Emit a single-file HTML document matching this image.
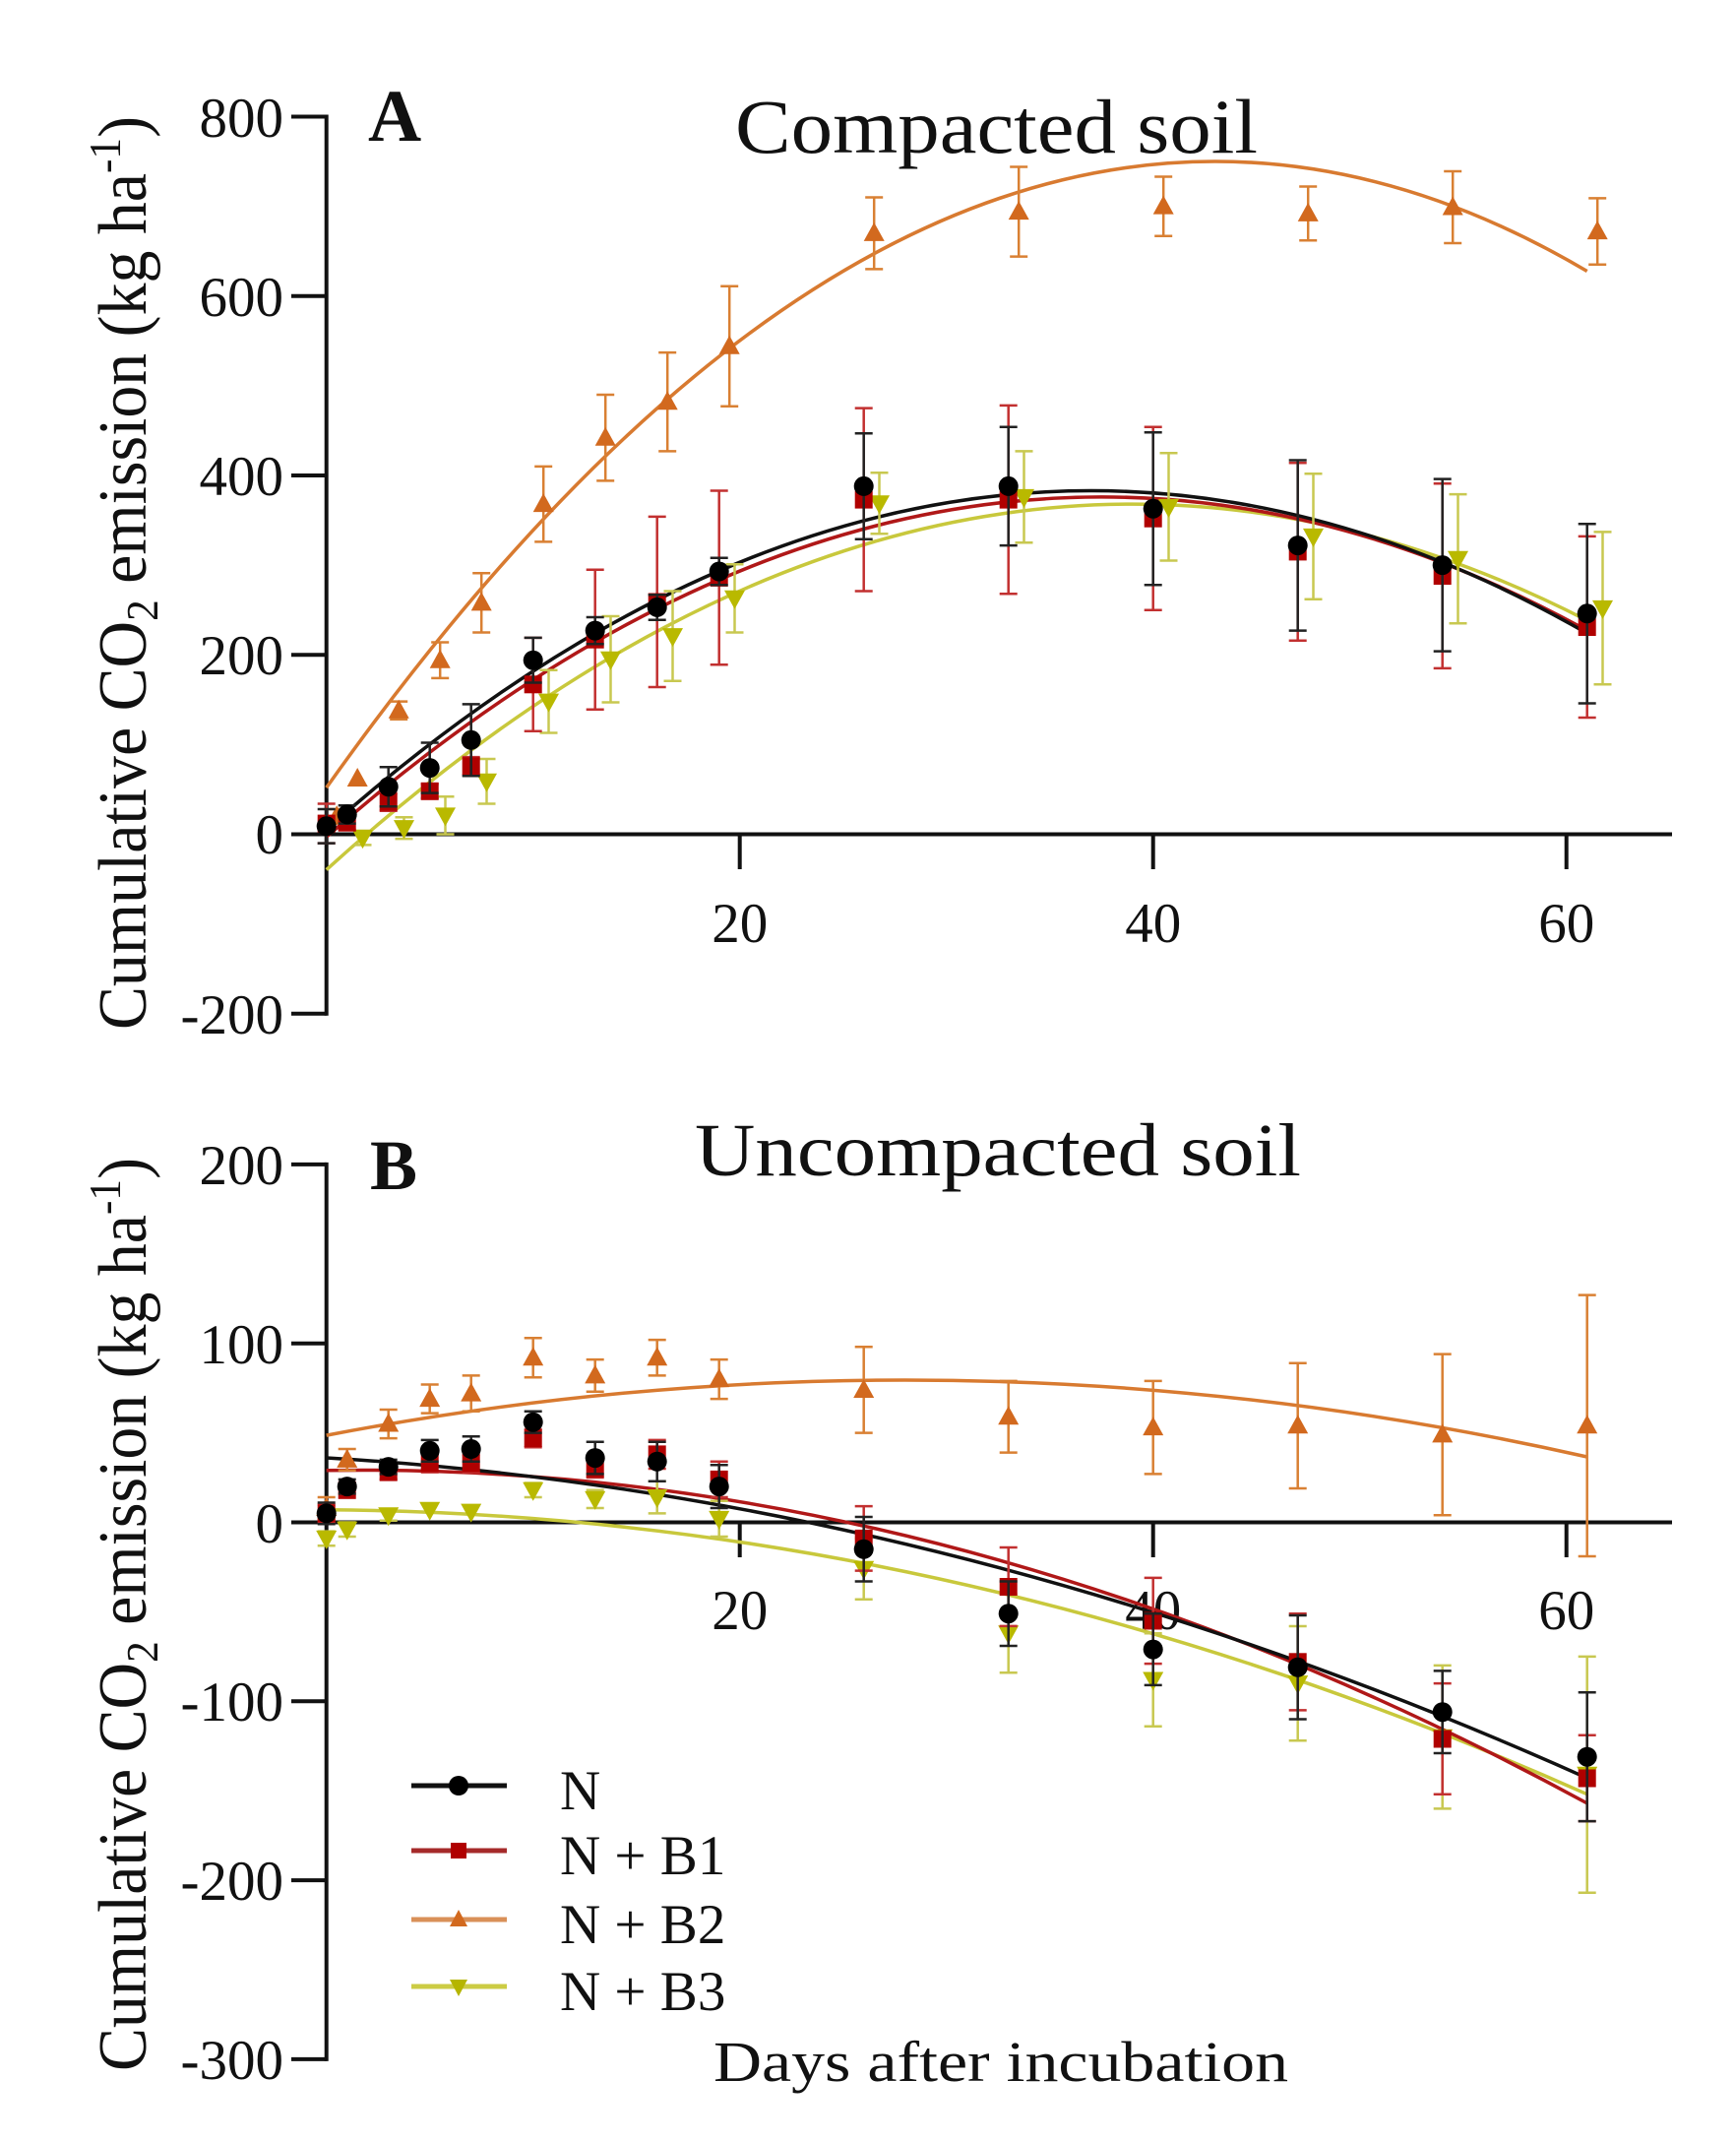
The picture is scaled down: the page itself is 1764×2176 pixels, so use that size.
<!DOCTYPE html>
<html><head><meta charset="utf-8"><style>
html,body{margin:0;padding:0;background:#fff;}
svg{display:block;}
text{font-family:"Liberation Serif",serif;fill:#111;}
</style></head><body>
<svg width="1764" height="2176" viewBox="0 0 1764 2176" xmlns="http://www.w3.org/2000/svg">
<defs>
<circle id="c" r="10"/>
<rect id="s" x="-9" y="-9" width="18" height="18"/>
<path id="tu" d="M0 -11L10.5 8H-10.5Z"/>
<path id="td" d="M0 11L10.5 -8H-10.5Z"/>
</defs>
<rect width="1764" height="2176" fill="#fff"/>

<!-- ===== Panel A ===== -->
<g stroke="#111" stroke-width="4" fill="none">
<path d="M331.7 116.5V1031.8"/>
<path d="M296 118.5H331.7M296 300.7H331.7M296 483H331.7M296 665.2H331.7M296 847.5H331.7M296 1029.8H331.7"/>
<path d="M329.7 847.5H1699"/>
<path d="M751.7 847.5V883M1171.7 847.5V883M1591.7 847.5V883"/>
</g>
<g font-size="57" text-anchor="end">
<text x="288" y="139">800</text>
<text x="288" y="321">600</text>
<text x="288" y="503">400</text>
<text x="288" y="685">200</text>
<text x="288" y="867">0</text>
<text x="288" y="1050">-200</text>
</g>
<g font-size="57" text-anchor="middle">
<text x="751.7" y="957">20</text>
<text x="1171.7" y="957">40</text>
<text x="1591.7" y="957">60</text>
</g>
<text x="374" y="143" font-size="75" font-weight="bold">A</text>
<text x="747" y="155" font-size="78" textLength="531" lengthAdjust="spacingAndGlyphs">Compacted soil</text>
<text transform="translate(148,1046) rotate(-90)" font-size="70" textLength="928" lengthAdjust="spacingAndGlyphs">Cumulative CO<tspan dy="12" font-size="46">2</tspan><tspan dy="-12"> emission (kg ha</tspan><tspan dy="-26" font-size="46">-1</tspan><tspan dy="26">)</tspan></text>

<!-- curves A -->
<g fill="none" stroke-width="3.5">
<path d="M331.7 883.6Q972.2 302.6 1612.7 630.3" stroke="#c8c83c"/>
<path d="M331.7 800.1Q972.2 -102.3 1612.7 275.5" stroke="#d87a30"/>
<path d="M331.7 850.2Q972.2 288.5 1612.7 640.5" stroke="#b01818"/>
<path d="M331.7 842.8Q972.2 275.2 1612.7 643.4" stroke="#111"/>
</g>

<!-- yellow A -->
<path fill="none" stroke="#c8c850" stroke-width="2.5" d="M368.5 843.9V858.4M359.5 843.9h18M359.5 858.4h18M410.5 830.2V852.1M401.5 830.2h18M401.5 852.1h18M452.5 809.2V847.5M443.5 809.2h18M443.5 847.5h18M494.5 771V816.5M485.5 771h18M485.5 816.5h18M557.5 680.7V744.5M548.5 680.7h18M548.5 744.5h18M620.5 626V713.5M611.5 626h18M611.5 713.5h18M683.5 600.5V691.7M674.5 600.5h18M674.5 691.7h18M746.5 573.2V642.5M737.5 573.2h18M737.5 642.5h18M893.5 480.2V542.2M884.5 480.2h18M884.5 542.2h18M1040.5 458.4V551.3M1031.5 458.4h18M1031.5 551.3h18M1187.5 460.2V569.5M1178.5 460.2h18M1178.5 569.5h18M1334.5 481.2V608.7M1325.5 481.2h18M1325.5 608.7h18M1481.5 502.1V633.3M1472.5 502.1h18M1472.5 633.3h18M1628.5 540.4V695.3M1619.5 540.4h18M1619.5 695.3h18"/>
<g fill="#b9b900">
<use href="#td" x="368.5" y="851.1"/><use href="#td" x="410.5" y="841.1"/><use href="#td" x="452.5" y="828.4"/><use href="#td" x="494.5" y="793.7"/><use href="#td" x="557.5" y="712.6"/><use href="#td" x="620.5" y="669.8"/><use href="#td" x="683.5" y="646.1"/><use href="#td" x="746.5" y="607.8"/><use href="#td" x="893.5" y="511.2"/><use href="#td" x="1040.5" y="504.9"/><use href="#td" x="1187.5" y="514.9"/><use href="#td" x="1334.5" y="544.9"/><use href="#td" x="1481.5" y="567.7"/><use href="#td" x="1628.5" y="617.9"/>
</g>

<!-- orange A -->
<path fill="none" stroke="#d98033" stroke-width="2.5" d="M342.2 822V836.6M333.2 822h18M333.2 836.6h18M405.2 712.6V730.8M396.2 712.6h18M396.2 730.8h18M447.2 652.5V688.9M438.2 652.5h18M438.2 688.9h18M489.2 582.3V642.5M480.2 582.3h18M480.2 642.5h18M552.2 473.9V550.4M543.2 473.9h18M543.2 550.4h18M615.2 401V488.4M606.2 401h18M606.2 488.4h18M678.2 358.1V458.4M669.2 358.1h18M669.2 458.4h18M741.2 290.7V412.8M732.2 290.7h18M732.2 412.8h18M888.2 200.5V273.4M879.2 200.5h18M879.2 273.4h18M1035.2 169.5V260.6M1026.2 169.5h18M1026.2 260.6h18M1182.2 179.5V239.7M1173.2 179.5h18M1173.2 239.7h18M1329.2 189.5V244.2M1320.2 189.5h18M1320.2 244.2h18M1476.2 174V247M1467.2 174h18M1467.2 247h18M1623.2 201.4V268.8M1614.2 201.4h18M1614.2 268.8h18"/>
<g fill="#d2691e">
<use href="#tu" x="342.2" y="829.3"/><use href="#tu" x="363.2" y="791"/><use href="#tu" x="405.2" y="721.7"/><use href="#tu" x="447.2" y="670.7"/><use href="#tu" x="489.2" y="612.4"/><use href="#tu" x="552.2" y="512.1"/><use href="#tu" x="615.2" y="444.7"/><use href="#tu" x="678.2" y="408.3"/><use href="#tu" x="741.2" y="351.8"/><use href="#tu" x="888.2" y="236.9"/><use href="#tu" x="1035.2" y="215.1"/><use href="#tu" x="1182.2" y="209.6"/><use href="#tu" x="1329.2" y="216.9"/><use href="#tu" x="1476.2" y="210.5"/><use href="#tu" x="1623.2" y="235.1"/>
</g>

<!-- red A -->
<path fill="none" stroke="#c23030" stroke-width="2.5" d="M331.7 816.5V856.6M322.7 816.5h18M322.7 856.6h18M352.7 828.4V842.9M343.7 828.4h18M343.7 842.9h18M394.7 805.6V823.8M385.7 805.6h18M385.7 823.8h18M436.7 796.5V811M427.7 796.5h18M427.7 811h18M478.7 769.1V787.4M469.7 769.1h18M469.7 787.4h18M541.7 647.9V742.7M532.7 647.9h18M532.7 742.7h18M604.7 578.7V720.8M595.7 578.7h18M595.7 720.8h18M667.7 524.9V698M658.7 524.9h18M658.7 698h18M730.7 498.5V675.3M721.7 498.5h18M721.7 675.3h18M877.7 414.6V600.5M868.7 414.6h18M868.7 600.5h18M1024.7 411.9V603.3M1015.7 411.9h18M1015.7 603.3h18M1171.7 433.8V619.7M1162.7 433.8h18M1162.7 619.7h18M1318.7 470.2V650.7M1309.7 470.2h18M1309.7 650.7h18M1465.7 491.2V678.9M1456.7 491.2h18M1456.7 678.9h18M1612.7 544.9V729M1603.7 544.9h18M1603.7 729h18"/>
<g fill="#b00000">
<use href="#s" x="331.7" y="836.6"/><use href="#s" x="352.7" y="835.7"/><use href="#s" x="394.7" y="814.7"/><use href="#s" x="436.7" y="803.8"/><use href="#s" x="478.7" y="778.2"/><use href="#s" x="541.7" y="695.3"/><use href="#s" x="604.7" y="649.7"/><use href="#s" x="667.7" y="611.5"/><use href="#s" x="730.7" y="586.9"/><use href="#s" x="877.7" y="507.6"/><use href="#s" x="1024.7" y="507.6"/><use href="#s" x="1171.7" y="526.7"/><use href="#s" x="1318.7" y="560.4"/><use href="#s" x="1465.7" y="585"/><use href="#s" x="1612.7" y="637"/>
</g>

<!-- black A -->
<path fill="none" stroke="#222" stroke-width="2.5" d="M331.7 822V856.6M322.7 822h18M322.7 856.6h18M352.7 818.3V836.6M343.7 818.3h18M343.7 836.6h18M394.7 779.2V819.3M385.7 779.2h18M385.7 819.3h18M436.7 754.5V805.6M427.7 754.5h18M427.7 805.6h18M478.7 715.4V788.3M469.7 715.4h18M469.7 788.3h18M541.7 647.9V693.5M532.7 647.9h18M532.7 693.5h18M604.7 627V654.3M595.7 627h18M595.7 654.3h18M667.7 604.2V629.7M658.7 604.2h18M658.7 629.7h18M730.7 566.8V594.2M721.7 566.8h18M721.7 594.2h18M877.7 440.2V547.7M868.7 440.2h18M868.7 547.7h18M1024.7 433.8V554.1M1015.7 433.8h18M1015.7 554.1h18M1171.7 439.2V594.2M1162.7 439.2h18M1162.7 594.2h18M1318.7 467.5V640.6M1309.7 467.5h18M1309.7 640.6h18M1465.7 486.6V661.6M1456.7 486.6h18M1456.7 661.6h18M1612.7 532.2V714.5M1603.7 532.2h18M1603.7 714.5h18"/>
<g fill="#000">
<use href="#c" x="331.7" y="839.3"/><use href="#c" x="352.7" y="827.4"/><use href="#c" x="394.7" y="799.2"/><use href="#c" x="436.7" y="780.1"/><use href="#c" x="478.7" y="751.8"/><use href="#c" x="541.7" y="670.7"/><use href="#c" x="604.7" y="640.6"/><use href="#c" x="667.7" y="616.9"/><use href="#c" x="730.7" y="580.5"/><use href="#c" x="877.7" y="493.9"/><use href="#c" x="1024.7" y="493.9"/><use href="#c" x="1171.7" y="516.7"/><use href="#c" x="1318.7" y="554.1"/><use href="#c" x="1465.7" y="574.1"/><use href="#c" x="1612.7" y="623.3"/>
</g>

<!-- ===== Panel B ===== -->
<g stroke="#111" stroke-width="4" fill="none">
<path d="M331.7 1180.9V2093.9"/>
<path d="M296 1182.9H331.7M296 1364.7H331.7M296 1546.5H331.7M296 1728.3H331.7M296 1910.1H331.7M296 2091.9H331.7"/>
<path d="M329.7 1546.5H1699"/>
<path d="M751.7 1546.5V1582M1171.7 1546.5V1582M1591.7 1546.5V1582"/>
</g>
<g font-size="57" text-anchor="end">
<text x="288" y="1203">200</text>
<text x="288" y="1385">100</text>
<text x="288" y="1567">0</text>
<text x="288" y="1748">-100</text>
<text x="288" y="1930">-200</text>
<text x="288" y="2112">-300</text>
</g>
<g font-size="57" text-anchor="middle">
<text x="751.7" y="1655">20</text>
<text x="1171.7" y="1655">40</text>
<text x="1591.7" y="1655">60</text>
</g>
<text x="376" y="1208" font-size="72" font-weight="bold">B</text>
<text x="706" y="1194" font-size="76" textLength="616" lengthAdjust="spacingAndGlyphs">Uncompacted soil</text>
<text transform="translate(148,2104) rotate(-90)" font-size="70" textLength="928" lengthAdjust="spacingAndGlyphs">Cumulative CO<tspan dy="12" font-size="46">2</tspan><tspan dy="-12"> emission (kg ha</tspan><tspan dy="-26" font-size="46">-1</tspan><tspan dy="26">)</tspan></text>

<!-- curves B -->
<g fill="none" stroke-width="3.5">
<path d="M331.7 1458.1Q972.2 1335.8 1612.7 1480" stroke="#d87a30"/>
<path d="M331.7 1533.8Q972.2 1537.5 1612.7 1822.7" stroke="#c8c83c"/>
<path d="M331.7 1493.8Q972.2 1483.5 1612.7 1831.9" stroke="#b01818"/>
<path d="M331.7 1481Q972.2 1519.1 1612.7 1806.3" stroke="#111"/>
</g>

<!-- orange B -->
<path fill="none" stroke="#d98033" stroke-width="2.5" d="M331.7 1521V1542.9M322.7 1521h18M322.7 1542.9h18M352.7 1472V1493.8M343.7 1472h18M343.7 1493.8h18M394.7 1432V1461.1M385.7 1432h18M385.7 1461.1h18M436.7 1406.5V1435.6M427.7 1406.5h18M427.7 1435.6h18M478.7 1397.4V1433.8M469.7 1397.4h18M469.7 1433.8h18M541.7 1359.3V1399.2M532.7 1359.3h18M532.7 1399.2h18M604.7 1381.1V1413.8M595.7 1381.1h18M595.7 1413.8h18M667.7 1361.1V1397.4M658.7 1361.1h18M658.7 1397.4h18M730.7 1381.1V1421.1M721.7 1381.1h18M721.7 1421.1h18M877.7 1368.3V1455.6M868.7 1368.3h18M868.7 1455.6h18M1024.7 1402.9V1475.6M1015.7 1402.9h18M1015.7 1475.6h18M1171.7 1402.9V1497.4M1162.7 1402.9h18M1162.7 1497.4h18M1318.7 1384.7V1512M1309.7 1384.7h18M1309.7 1512h18M1465.7 1375.6V1539.2M1456.7 1375.6h18M1456.7 1539.2h18M1612.7 1315.6V1581M1603.7 1315.6h18M1603.7 1581h18"/>
<g fill="#d2691e">
<use href="#tu" x="331.7" y="1532"/><use href="#tu" x="352.7" y="1482.9"/><use href="#tu" x="394.7" y="1446.5"/><use href="#tu" x="436.7" y="1421.1"/><use href="#tu" x="478.7" y="1415.6"/><use href="#tu" x="541.7" y="1379.2"/><use href="#tu" x="604.7" y="1397.4"/><use href="#tu" x="667.7" y="1379.2"/><use href="#tu" x="730.7" y="1401.1"/><use href="#tu" x="877.7" y="1412"/><use href="#tu" x="1024.7" y="1439.2"/><use href="#tu" x="1171.7" y="1450.1"/><use href="#tu" x="1318.7" y="1448.3"/><use href="#tu" x="1465.7" y="1457.4"/><use href="#tu" x="1612.7" y="1448.3"/>
</g>

<!-- yellow B -->
<path fill="none" stroke="#c8c850" stroke-width="2.5" d="M331.7 1555.6V1570.2M322.7 1555.6h18M322.7 1570.2h18M352.7 1546.5V1561M343.7 1546.5h18M343.7 1561h18M394.7 1533.8V1544.7M385.7 1533.8h18M385.7 1544.7h18M541.7 1506.5V1521M532.7 1506.5h18M532.7 1521h18M604.7 1513.8V1532M595.7 1513.8h18M595.7 1532h18M667.7 1504.7V1537.4M658.7 1504.7h18M658.7 1537.4h18M730.7 1524.7V1561M721.7 1524.7h18M721.7 1561h18M877.7 1562.9V1624.7M868.7 1562.9h18M868.7 1624.7h18M1024.7 1619.2V1699.2M1015.7 1619.2h18M1015.7 1699.2h18M1171.7 1659.2V1753.8M1162.7 1659.2h18M1162.7 1753.8h18M1318.7 1652V1768.3M1309.7 1652h18M1309.7 1768.3h18M1465.7 1691.9V1837.4M1456.7 1691.9h18M1456.7 1837.4h18M1612.7 1682.9V1922.8M1603.7 1682.9h18M1603.7 1922.8h18"/>
<g fill="#b9b900">
<use href="#td" x="331.7" y="1562.9"/><use href="#td" x="352.7" y="1553.8"/><use href="#td" x="394.7" y="1539.2"/><use href="#td" x="436.7" y="1533.8"/><use href="#td" x="478.7" y="1535.6"/><use href="#td" x="541.7" y="1513.8"/><use href="#td" x="604.7" y="1522.9"/><use href="#td" x="667.7" y="1521"/><use href="#td" x="730.7" y="1542.9"/><use href="#td" x="877.7" y="1593.8"/><use href="#td" x="1024.7" y="1659.2"/><use href="#td" x="1171.7" y="1706.5"/><use href="#td" x="1318.7" y="1710.1"/><use href="#td" x="1465.7" y="1764.7"/><use href="#td" x="1612.7" y="1802.8"/>
</g>

<!-- red B -->
<path fill="none" stroke="#c23030" stroke-width="2.5" d="M331.7 1528.3V1546.5M322.7 1528.3h18M322.7 1546.5h18M394.7 1488.3V1502.9M385.7 1488.3h18M385.7 1502.9h18M436.7 1477.4V1495.6M427.7 1477.4h18M427.7 1495.6h18M478.7 1477.4V1495.6M469.7 1477.4h18M469.7 1495.6h18M541.7 1452V1470.2M532.7 1452h18M532.7 1470.2h18M604.7 1483V1501M595.7 1483h18M595.7 1501h18M667.7 1462.9V1492M658.7 1462.9h18M658.7 1492h18M730.7 1484.7V1521M721.7 1484.7h18M721.7 1521h18M877.7 1530.1V1595.6M868.7 1530.1h18M868.7 1595.6h18M1024.7 1572V1651.9M1015.7 1572h18M1015.7 1651.9h18M1171.7 1602.9V1690.1M1162.7 1602.9h18M1162.7 1690.1h18M1318.7 1639.2V1737.4M1309.7 1639.2h18M1309.7 1737.4h18M1465.7 1710.1V1822.8M1456.7 1710.1h18M1456.7 1822.8h18M1612.7 1762.8V1850.1M1603.7 1762.8h18M1603.7 1850.1h18"/>
<g fill="#b00000">
<use href="#s" x="331.7" y="1537.4"/><use href="#s" x="352.7" y="1513.8"/><use href="#s" x="394.7" y="1495.6"/><use href="#s" x="436.7" y="1486.5"/><use href="#s" x="478.7" y="1486.5"/><use href="#s" x="541.7" y="1461.1"/><use href="#s" x="604.7" y="1492"/><use href="#s" x="667.7" y="1477.4"/><use href="#s" x="730.7" y="1502.9"/><use href="#s" x="877.7" y="1562.9"/><use href="#s" x="1024.7" y="1612"/><use href="#s" x="1171.7" y="1646.5"/><use href="#s" x="1318.7" y="1688.3"/><use href="#s" x="1465.7" y="1766.5"/><use href="#s" x="1612.7" y="1806.5"/>
</g>

<!-- black B -->
<path fill="none" stroke="#222" stroke-width="2.5" d="M331.7 1526.5V1548.3M322.7 1526.5h18M322.7 1548.3h18M352.7 1502.9V1517.4M343.7 1502.9h18M343.7 1517.4h18M394.7 1482.9V1497.4M385.7 1482.9h18M385.7 1497.4h18M436.7 1462.9V1484.7M427.7 1462.9h18M427.7 1484.7h18M478.7 1459.2V1484.7M469.7 1459.2h18M469.7 1484.7h18M541.7 1433.8V1455.6M532.7 1433.8h18M532.7 1455.6h18M604.7 1464.7V1497.4M595.7 1464.7h18M595.7 1497.4h18M667.7 1464.7V1504.7M658.7 1464.7h18M658.7 1504.7h18M730.7 1488.3V1532M721.7 1488.3h18M721.7 1532h18M877.7 1541V1606.5M868.7 1541h18M868.7 1606.5h18M1024.7 1606.5V1672M1015.7 1606.5h18M1015.7 1672h18M1171.7 1639.2V1711.9M1162.7 1639.2h18M1162.7 1711.9h18M1318.7 1641V1746.5M1309.7 1641h18M1309.7 1746.5h18M1465.7 1697.4V1781M1456.7 1697.4h18M1456.7 1781h18M1612.7 1719.2V1850.1M1603.7 1719.2h18M1603.7 1850.1h18"/>
<g fill="#000">
<use href="#c" x="331.7" y="1537.4"/><use href="#c" x="352.7" y="1510.1"/><use href="#c" x="394.7" y="1490.1"/><use href="#c" x="436.7" y="1473.8"/><use href="#c" x="478.7" y="1472"/><use href="#c" x="541.7" y="1444.7"/><use href="#c" x="604.7" y="1481.1"/><use href="#c" x="667.7" y="1484.7"/><use href="#c" x="730.7" y="1510.1"/><use href="#c" x="877.7" y="1573.8"/><use href="#c" x="1024.7" y="1639.2"/><use href="#c" x="1171.7" y="1675.6"/><use href="#c" x="1318.7" y="1693.8"/><use href="#c" x="1465.7" y="1739.2"/><use href="#c" x="1612.7" y="1784.7"/>
</g>

<!-- legend -->
<g stroke-width="5" fill="none">
<path d="M418 1814H515" stroke="#111"/>
<path d="M418 1880H515" stroke="#a52a2a"/>
<path d="M418 1950H515" stroke="#d99058"/>
<path d="M418 2018H515" stroke="#cccc44"/>
</g>
<use href="#c" x="466" y="1814" fill="#000" transform="translate(0,0)"/>
<rect x="458" y="1872" width="16" height="16" fill="#b00000"/>
<path d="M466 1940L475 1957H457Z" fill="#d2691e"/>
<path d="M466 2028L475 2011H457Z" fill="#b5b500"/>
<g font-size="57">
<text x="569" y="1838">N</text>
<text x="569" y="1904">N + B1</text>
<text x="569" y="1974">N + B2</text>
<text x="569" y="2042">N + B3</text>
</g>
<text x="725" y="2114" font-size="58" textLength="584" lengthAdjust="spacingAndGlyphs">Days after incubation</text>
</svg>
</body></html>
